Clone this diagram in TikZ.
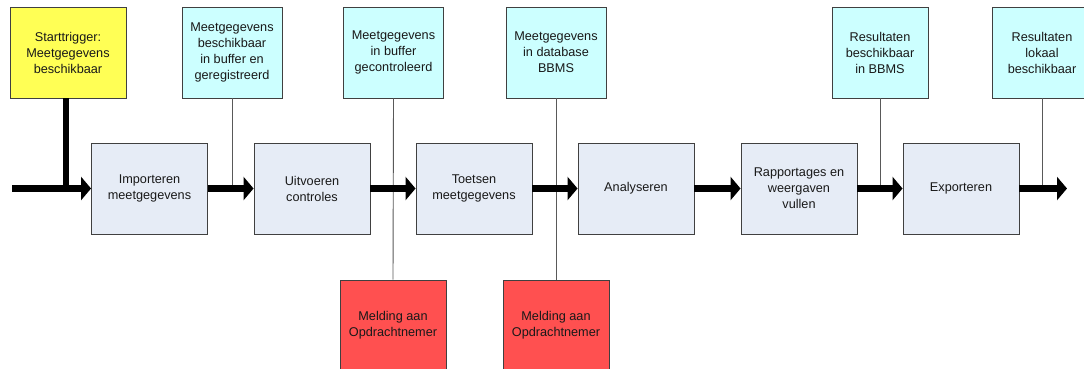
\documentclass[tikz,border=0pt]{standalone}
\usepackage{fontspec}
\setmainfont{Liberation Sans}
\usetikzlibrary{arrows.meta}
\definecolor{procfill}{HTML}{E6ECF6}
\definecolor{cyanfill}{HTML}{CCFFFF}
\definecolor{yellowfill}{HTML}{FFFF55}
\definecolor{redfill}{HTML}{FF5050}
\begin{document}
\begin{tikzpicture}[x=1pt,y=-1pt,
  box/.style={draw=black!75, line width=0.9pt, minimum width=116pt, minimum height=91pt,
    align=center, font=\fontsize{12.7}{16}\selectfont, inner sep=0pt, text=black!90},
  proc/.style={box, fill=procfill},
  state/.style={box, fill=cyanfill, minimum width=100pt},
  trig/.style={box, fill=yellowfill},
  alert/.style={box, fill=redfill, minimum width=106pt, minimum height=90pt},
  flow/.style={line width=7pt, -{Triangle[length=10pt,width=23pt]}},
  tie/.style={draw=black!65, line width=0.9pt}]
\useasboundingbox (0,0) rectangle (1084,368);

\node[trig]  (t0) at (68,52.5)   {Starttrigger:\\Meetgegevens\\beschikbaar};
\node[state] (s1) at (232,52.5)  {Meetgegevens\\beschikbaar\\in buffer en\\geregistreerd};
\node[state] (s2) at (393.5,52.5){Meetgegevens\\in buffer\\gecontroleerd};
\node[state] (s3) at (556,52.5)  {Meetgegevens\\in database\\BBMS};
\node[state, minimum width=96pt] (s4) at (880,52.5) {Resultaten\\beschikbaar\\in BBMS};
\node[state] (s5) at (1042,52.5) {Resultaten\\lokaal\\beschikbaar};

\node[proc] (p1) at (149.5,188.5) {Importeren\\meetgegevens};
\node[proc] (p2) at (312,188.5)   {Uitvoeren\\controles};
\node[proc] (p3) at (474,188.5)   {Toetsen\\meetgegevens};
\node[proc] (p4) at (636,188.5)   {Analyseren};
\node[proc] (p5) at (799,188.5)   {Rapportages en\\weergaven\\vullen};
\node[proc] (p6) at (961,188.5)   {Exporteren};

\node[alert] (r1) at (393,325) {Melding aan\\Opdrachtnemer};
\node[alert] (r2) at (556,325) {Melding aan\\Opdrachtnemer};

\coordinate (in) at (12,188.5);
\coordinate (out) at (1067,188.5);

\draw[tie] (s1.south) -- (s1.south |- p1.east);
\draw[tie] (s2.south) -- (r1.north);
\draw[tie] (s3.south) -- (r2.north);
\draw[tie] (s4.south) -- (s4.south |- p5.east);
\draw[tie] (s5.south) -- (s5.south |- p6.east);

\draw[line width=6pt] ([xshift=-2pt]t0.south) -- ([xshift=-2pt,yshift=-3pt]t0.south |- in);
\draw[flow] (in) -- (p1.west);
\draw[flow] (p1.east) -- (p2.west);
\draw[flow] (p2.east) -- (p3.west);
\draw[flow] (p3.east) -- (p4.west);
\draw[flow] (p4.east) -- (p5.west);
\draw[flow] (p5.east) -- (p6.west);
\draw[flow] (p6.east) -- (out);
\end{tikzpicture}
\end{document}
